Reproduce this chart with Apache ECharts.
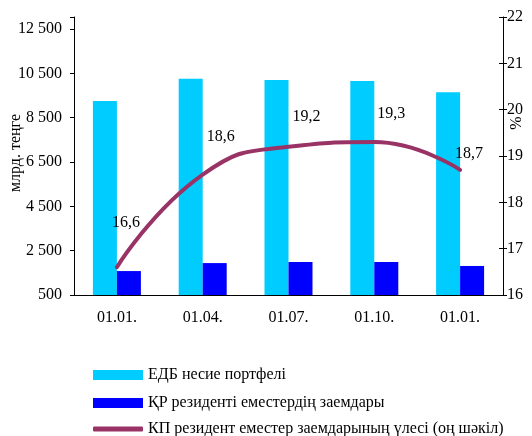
<!DOCTYPE html>
<html><head><meta charset="utf-8">
<script src="https://cdn.jsdelivr.net/npm/echarts@6/dist/echarts.min.js"></script>
<style>html,body{margin:0;padding:0;background:#fff}#c{width:532px;height:436px}</style>
</head><body><div id="c"></div>
<script>
const categories = ['01.01.', '01.04.', '01.07.', '01.10.', '01.01.'];
const portfolio = [9250, 10250, 10200, 10150, 9650];
const nonResidentLoans = [1580, 1940, 1990, 1990, 1810];
const sharePct = [16.6, 18.6, 19.2, 19.3, 18.7];
const seriesNames = ['ЕДБ несие портфелі', 'ҚР резиденті еместердің заемдары', 'КП резидент еместер заемдарының үлесі (оң шәкіл)'];

const FONT = 'Liberation Serif';
const FS = 16;
const labelOffsets = [[9, -36], [18, -30], [18, -22], [17, -20], [9, -8]];

function legendFor(i, top, opts) {
  return Object.assign({
    orient: 'vertical', left: 88, top: top,
    itemWidth: 50, itemHeight: 10, itemGap: 4,
    textStyle: { fontFamily: FONT, fontSize: FS, color: '#000' },
    data: [{ name: seriesNames[i], icon: 'rect' }]
  }, opts || {});
}

const chart = echarts.init(document.getElementById('c'));
chart.setOption({
  animation: false,
  textStyle: { fontFamily: FONT, color: '#000' },
  grid: { left: 74, right: 29, top: 17, bottom: 141, outerBoundsMode: 'none', containLabel: false },
  legend: [
    legendFor(0, 362),
    legendFor(1, 390),
    legendFor(2, 416, { itemHeight: 5, data: [{ name: seriesNames[2], icon: 'roundRect', itemStyle: { color: '#993366' } }] })
  ],
  graphic: [{
    type: 'text', x: 517, y: 123, rotation: Math.PI / 2,
    style: { text: '%', font: FS + 'px ' + FONT, fill: '#000', align: 'center', verticalAlign: 'middle' }
  }],
  xAxis: {
    type: 'category', data: categories,
    axisLine: { lineStyle: { color: '#000', width: 1 } },
    axisTick: { alignWithLabel: false, length: 5, lineStyle: { color: '#000' } },
    axisLabel: { fontFamily: FONT, fontSize: FS, color: '#000', margin: 15 }
  },
  yAxis: [
    {
      type: 'value', min: 500, max: 13041, interval: 2000,
      name: 'млрд. теңге', nameLocation: 'middle', nameGap: 50, nameRotate: 90,
      nameMoveOverlap: false,
      nameTextStyle: { fontFamily: FONT, fontSize: FS, color: '#000', padding: [0, 0, 0, 6] },
      splitLine: { show: false },
      axisLine: { show: true, lineStyle: { color: '#000' } },
      axisTick: { show: true, length: 4, lineStyle: { color: '#000' } },
      axisLabel: {
        fontFamily: FONT, fontSize: FS, color: '#000', margin: 12,
        formatter: function (v) {
          if ((v - 500) % 2000 !== 0) return '';
          return String(v).replace(/\B(?=(\d{3})+(?!\d))/g, ' ');
        }
      }
    },
    {
      type: 'value', min: 16, max: 22, interval: 1, position: 'right',
      splitLine: { show: false },
      axisLine: { show: true, lineStyle: { color: '#000' } },
      axisTick: { show: true, length: 4, lineStyle: { color: '#000' } },
      axisLabel: { fontFamily: FONT, fontSize: FS, color: '#000', margin: 4 }
    },
    {
      type: 'value', min: 16, max: 22, interval: 1, position: 'right',
      splitLine: { show: false },
      axisLine: { show: false },
      axisTick: { show: true, inside: true, length: 4, lineStyle: { color: '#000' } },
      axisLabel: { show: false }
    }
  ],
  series: [
    {
      name: seriesNames[0], type: 'bar', data: portfolio, yAxisIndex: 0,
      barWidth: 24, barGap: '0%', itemStyle: { color: '#00CCFF' }
    },
    {
      name: seriesNames[1], type: 'bar', data: nonResidentLoans, yAxisIndex: 0,
      barWidth: 24, barGap: '0%', itemStyle: { color: '#0000FF' }
    },
    {
      name: seriesNames[2], type: 'line', yAxisIndex: 1, smooth: 0.5,
      symbol: 'circle', symbolSize: 0, showSymbol: true,
      lineStyle: { color: '#993366', width: 4, cap: 'round' },
      itemStyle: { color: '#993366' },
      data: sharePct.map((v, i) => ({
        value: v,
        label: { show: true, position: 'top', offset: labelOffsets[i], distance: 0,
          fontFamily: FONT, fontSize: FS, color: '#000',
          formatter: function (p) { return String(p.value).replace('.', ','); } }
      }))
    }
  ]
});
</script>
</body></html>
